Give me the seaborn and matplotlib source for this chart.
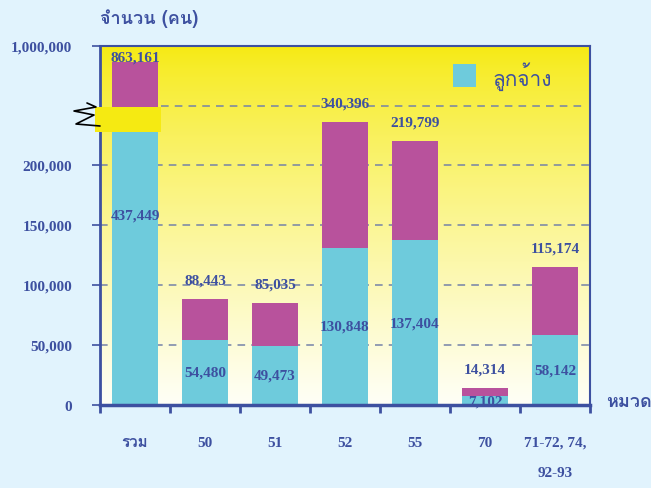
"""
จำนวนลูกจ้างแยกตามหมวด (กราฟแท่งซ้อน แกน y แบบหัก)
"""

import numpy as np
import pandas as pd
import matplotlib
matplotlib.use('Agg')
import matplotlib.pyplot as plt
from matplotlib import font_manager, ft2font
from matplotlib.patches import Rectangle
from matplotlib.lines import Line2D
import seaborn as sns

# Données
categories = ['รวม', '50', '51', '52', '55', '70', '71-72, 74,\n\n92-93']
totals = [863161, 88443, 85035, 340396, 219799, 14314, 115174]
employees = [437449, 54480, 49473, 130848, 137404, 7102, 58142]
yticks = [0, 50000, 100000, 150000, 200000, 1000000]

# Couleurs
BG = '#e1f3fd'
BLUE = '#3d50a0'
GRID = '#7482a8'
CYAN = '#6ecbdc'
MAGENTA = '#b8529c'
YELLOW = '#f5ea12'

# Axe brisé : linéaire jusqu'à BREAK puis compressé
BREAK = 225000
K = 0.0957


def fwd(v):
    v = np.asarray(v, dtype=float)
    return np.where(v <= BREAK, v, BREAK + (v - BREAK) * K)


def inv(u):
    u = np.asarray(u, dtype=float)
    return np.where(u <= BREAK, u, BREAK + (u - BREAK) / K)


def thai_family():
    """Trouve une police installée qui contient les caractères thaï"""
    for f in font_manager.fontManager.ttflist:
        try:
            if 0x0E08 in ft2font.FT2Font(f.fname).get_charmap():
                return f.name
        except Exception:
            pass
    return 'DejaVu Sans'


TH = thai_family()
THAI = [TH, 'DejaVu Sans']
NUM = ['Liberation Serif', TH, 'DejaVu Serif']

df = pd.DataFrame({'cat': categories, 'total': totals, 'emp': employees})

sns.set_theme(style='white')
fig = plt.figure(figsize=(6.51, 4.89), dpi=100, facecolor=BG)
ax = fig.add_axes([100 / 651, 83 / 489, 490 / 651, 359 / 489])

# Fond en dégradé jaune -> blanc
grad = np.linspace(0, 1, 256) ** 0.8
cols = (np.array([[0.965, 0.918, 0.07]]) * (1 - grad[:, None])
        + np.array([[1.0, 1.0, 0.97]]) * grad[:, None])
ax.imshow(cols[:, None, :], extent=[0, 1, 0, 1], transform=ax.transAxes,
          aspect='auto', zorder=0, origin='upper')

sns.barplot(data=df, x='cat', y='total', color=MAGENTA, width=0.66,
            saturation=1, ax=ax, zorder=3, linewidth=0, edgecolor='none')
sns.barplot(data=df, x='cat', y='emp', color=CYAN, width=0.66,
            saturation=1, ax=ax, zorder=3, linewidth=0, edgecolor='none')

ax.set_yscale('function', functions=(fwd, inv))
ax.set_ylim(0, 1000000)
ax.set_xlim(-0.5, len(categories) - 0.5)

# Grille pointillée
for y in yticks[1:-1]:
    ax.axhline(y, color=GRID, lw=1.1, ls=(0, (5, 4)), zorder=1)
ax.axhline(inv(249000), xmin=0.125, xmax=0.99, color=GRID, lw=1.1,
           ls=(0, (5, 4)), zorder=1)

# Axes et graduations
ax.set_yticks(yticks)
ax.set_yticklabels([f'{v:,}' for v in yticks], fontsize=11, fontweight='bold',
                   family=NUM, color=BLUE)
ax.set_xticks(range(len(categories)))
ax.set_xticklabels(categories, fontsize=11, fontweight='bold', family=NUM,
                   color=BLUE, linespacing=1.2)
ax.set_xticks(np.arange(-0.5, len(categories)), minor=True)
ax.tick_params(axis='x', which='major', length=0, pad=22)
ax.tick_params(axis='x', which='minor', length=6, width=2, color=BLUE,
               direction='out', bottom=True)
ax.tick_params(axis='y', length=6, width=1.2, color=BLUE, direction='out',
               left=True, pad=14)
ax.set_xlabel('')
ax.set_ylabel('')
for side, w in [('left', 2), ('bottom', 2.5), ('right', 1.5), ('top', 1.5)]:
    ax.spines[side].set_color(BLUE)
    ax.spines[side].set_linewidth(w)
    ax.spines[side].set_zorder(5)

# Étiquettes de valeurs
for i, (t, e) in enumerate(zip(totals, employees)):
    ax.annotate(f'{t:,}', xy=(i, t), xytext=(0, -1 if i == 0 else 9),
                textcoords='offset points', ha='center', va='bottom',
                fontsize=11, fontweight='bold', family=NUM, color=BLUE, zorder=6)
    mid = inv((fwd(0) + fwd(e)) / 2)
    if i == 0:
        mid = 158000
    ax.text(i, mid, f'{e:,}', ha='center', va='center', fontsize=11,
            fontweight='bold', family=NUM, color=BLUE, zorder=6)

# Marque de rupture de l'axe
ax.add_patch(Rectangle((-5 / 490, (406 - 133) / 359), 66 / 490, 25 / 359,
                       transform=ax.transAxes, facecolor=YELLOW,
                       edgecolor='none', clip_on=False, zorder=7))
zx = np.array([87, 96, 74, 94, 76, 100]) / 651
zy = 1 - np.array([104, 108, 112, 116, 125, 127]) / 489
fig.add_artist(Line2D(zx, zy, color='black', lw=1.2, zorder=8))

# Légende
fig.add_artist(Rectangle((453 / 651, 1 - 88 / 489), 23 / 651, 23 / 489,
                         facecolor=CYAN, edgecolor='none'))
fig.text(492 / 651, 1 - 77 / 489, 'ลูกจ้าง', fontsize=15, family=THAI,
         color=BLUE, va='center', ha='left')

# Titres des axes
fig.text(100 / 651, 1 - 19 / 489, 'จำนวน (คน)', fontsize=13, fontweight='bold',
         family=THAI, color=BLUE, va='center', ha='left')
fig.text(606 / 651, 1 - 402 / 489, 'หมวด', fontsize=13, fontweight='bold',
         family=THAI, color=BLUE, va='center', ha='left')

fig.savefig('out.png', dpi=100, facecolor=BG)
plt.close(fig)
